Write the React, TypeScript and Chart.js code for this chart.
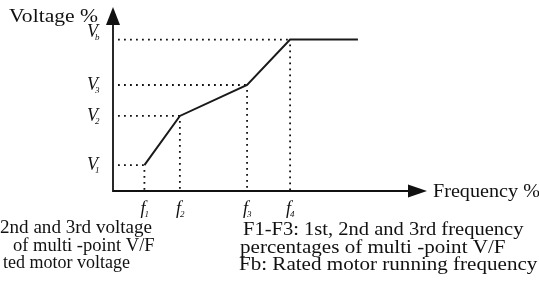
import { useEffect, useRef } from 'react';
import { Chart, registerables } from 'chart.js';

Chart.register(...registerables);

// Data (axis units are percent of the drawn axis length)
const freqPoints = [10, 21.3, 42.7, 56.4, 78];
const voltPoints = [14.1, 40.8, 57.6, 82.3, 82.3];
const freqTickSubs = ['1', '2', '3', '4'];
const voltTickSubs = ['1', '2', '3', 'b'];
const yAxisTitle = 'Voltage %';
const xAxisTitle = 'Frequency %';
const leftNotes = ['2nd and 3rd voltage', 'of multi -point V/F', 'ted motor voltage'];
const rightNotes = [
  'F1-F3: 1st, 2nd and 3rd frequency',
  'percentages of multi -point V/F',
  'Fb: Rated motor running frequency',
];

const SERIF = '"Liberation Serif", "Times New Roman", serif';

function wideText(ctx: CanvasRenderingContext2D, t: string, x: number, y: number, sx: number, align: 'left' | 'right') {
  ctx.save();
  ctx.translate(x, y);
  ctx.scale(sx, 1);
  ctx.textAlign = align;
  ctx.fillText(t, 0, 0);
  ctx.restore();
}

const diagramPlugin = {
  id: 'vfDiagram',
  beforeDatasetsDraw(chart: any) {
    const ctx = chart.ctx as CanvasRenderingContext2D;
    const xs = chart.scales.x;
    const ys = chart.scales.y;
    const x0 = xs.getPixelForValue(0);
    const y0 = ys.getPixelForValue(0);
    ctx.save();
    ctx.strokeStyle = '#111';
    ctx.lineWidth = 1.8;
    ctx.setLineDash([1.8, 4.2]);
    for (let i = 0; i < 4; i++) {
      const px = xs.getPixelForValue(freqPoints[i]);
      const py = ys.getPixelForValue(voltPoints[i]);
      ctx.beginPath();
      ctx.moveTo(x0 + 5, py);
      ctx.lineTo(px, py);
      ctx.stroke();
      ctx.beginPath();
      ctx.moveTo(px, py + 5);
      ctx.lineTo(px, y0);
      ctx.stroke();
    }
    ctx.restore();
  },
  afterDraw(chart: any) {
    const ctx = chart.ctx as CanvasRenderingContext2D;
    const xs = chart.scales.x;
    const ys = chart.scales.y;
    const x0 = xs.getPixelForValue(0);
    const y0 = ys.getPixelForValue(0);
    const xEnd = xs.getPixelForValue(100);
    const yEnd = ys.getPixelForValue(100);
    ctx.save();
    ctx.strokeStyle = '#111';
    ctx.fillStyle = '#111';
    ctx.lineWidth = 1.8;
    ctx.setLineDash([]);
    // axes
    ctx.beginPath();
    ctx.moveTo(x0, yEnd + 14);
    ctx.lineTo(x0, y0);
    ctx.lineTo(xEnd - 14, y0);
    ctx.stroke();
    // y arrow
    ctx.beginPath();
    ctx.moveTo(x0, yEnd);
    ctx.lineTo(x0 - 7, yEnd + 18);
    ctx.lineTo(x0 + 7, yEnd + 18);
    ctx.closePath();
    ctx.fill();
    // x arrow
    ctx.beginPath();
    ctx.moveTo(xEnd, y0);
    ctx.lineTo(xEnd - 19, y0 - 6.5);
    ctx.lineTo(xEnd - 19, y0 + 6.5);
    ctx.closePath();
    ctx.fill();

    ctx.textBaseline = 'alphabetic';
    // axis titles
    ctx.font = `18px ${SERIF}`;
    wideText(ctx, yAxisTitle, x0 - 15, yEnd + 15, 1.2, 'right');
    wideText(ctx, xAxisTitle, xEnd + 6, y0 + 6, 1.12, 'left');

    // V labels
    for (let i = 0; i < 4; i++) {
      const py = ys.getPixelForValue(voltPoints[i]);
      const off = i === 3 ? -3 : 5;
      ctx.font = `italic 18px ${SERIF}`;
      ctx.textAlign = 'left';
      const lx = x0 - 26;
      ctx.fillText('V', lx, py + off);
      const w = ctx.measureText('V').width;
      ctx.font = `italic 9px ${SERIF}`;
      ctx.fillText(voltTickSubs[i], lx + w - 3, py + off + 3);
    }
    // f labels
    for (let i = 0; i < 4; i++) {
      const px = xs.getPixelForValue(freqPoints[i]);
      ctx.font = `italic 18px ${SERIF}`;
      ctx.textAlign = 'left';
      const lx = px - 4;
      ctx.fillText('f', lx, y0 + 23);
      const w = ctx.measureText('f').width;
      ctx.font = `italic 9px ${SERIF}`;
      ctx.fillText(freqTickSubs[i], lx + w - 1, y0 + 26);
    }

    // notes
    ctx.font = `18px ${SERIF}`;
    const leftX = [0, 13, 3];
    const leftS = [1.06, 1.03, 1.0];
    leftNotes.forEach((t, i) => wideText(ctx, t, leftX[i], 233 + i * 17.5, leftS[i], 'left'));
    const rightX = [243, 240, 239];
    const rightS = [1.14, 1.17, 1.17];
    rightNotes.forEach((t, i) => wideText(ctx, t, rightX[i], 235 + i * 17.5, rightS[i], 'left'));
    ctx.restore();
  },
};

export default function App() {
  const ref = useRef<HTMLCanvasElement | null>(null);
  useEffect(() => {
    document.body.style.margin = '0';
    const canvas = ref.current;
    if (!canvas) return;
    const chart = new Chart(canvas, {
      type: 'line',
      data: {
        datasets: [
          {
            data: freqPoints.map((f, i) => ({ x: f, y: voltPoints[i] })),
            borderColor: '#1a1a1a',
            borderWidth: 2,
            pointRadius: 0,
            tension: 0,
            fill: false,
          },
        ],
      },
      plugins: [diagramPlugin],
      options: {
        responsive: false,
        animation: false,
        events: [],
        layout: { padding: { left: 113, right: 112, top: 7, bottom: 96 } },
        plugins: { legend: { display: false }, tooltip: { enabled: false } },
        scales: {
          x: { type: 'linear', min: 0, max: 100, display: false },
          y: { type: 'linear', min: 0, max: 100, display: false },
        },
      },
    });
    return () => chart.destroy();
  }, []);
  return (
    <div style={{ width: 539, height: 287, background: '#fff' }}>
      <canvas ref={ref} width={539} height={287} />
    </div>
  );
}
